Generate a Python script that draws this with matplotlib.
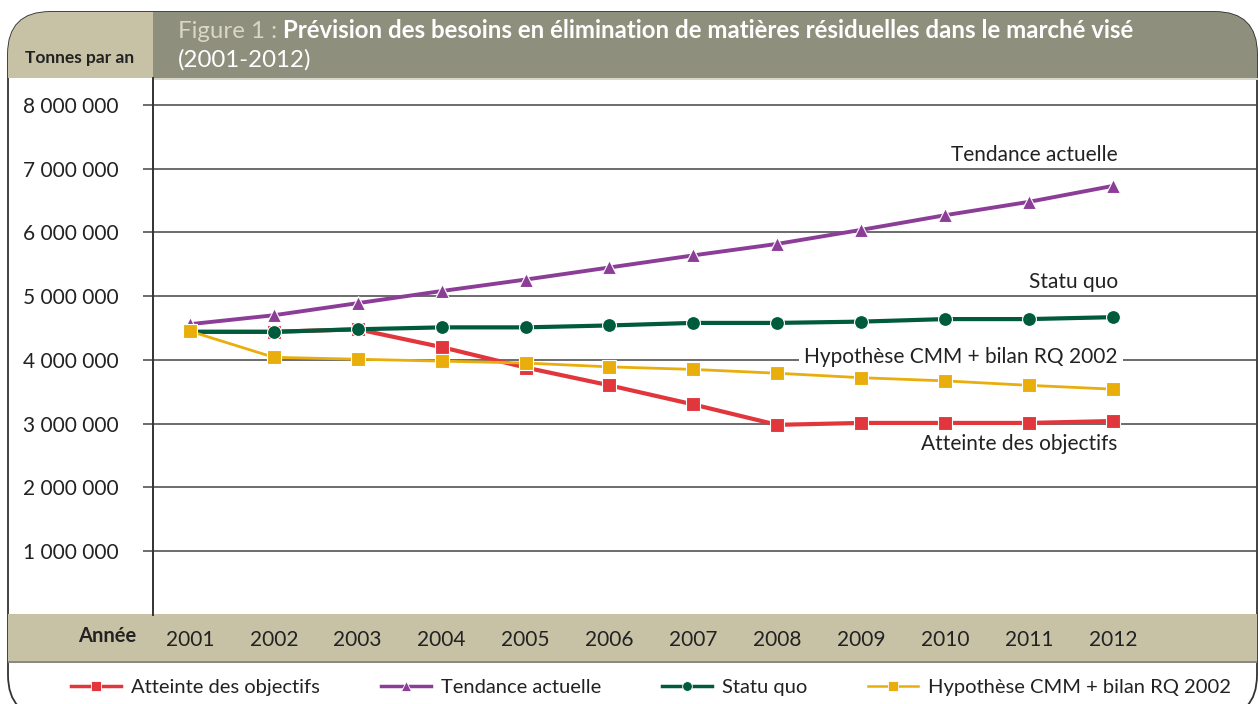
import matplotlib
matplotlib.use('Agg')
import matplotlib.pyplot as plt
from matplotlib.lines import Line2D
from matplotlib.patches import FancyBboxPatch, Rectangle
from matplotlib.transforms import Affine2D

plt.rcParams['font.family'] = ['Lato', 'DejaVu Sans']

years = [2001, 2002, 2003, 2004, 2005, 2006, 2007, 2008, 2009, 2010, 2011, 2012]
atteinte = [4.44e6, 4.44e6, 4.48e6, 4.20e6, 3.88e6, 3.60e6, 3.30e6, 2.98e6, 3.01e6, 3.01e6, 3.01e6, 3.04e6]
tendance = [4.56e6, 4.70e6, 4.89e6, 5.08e6, 5.26e6, 5.45e6, 5.64e6, 5.82e6, 6.04e6, 6.27e6, 6.48e6, 6.73e6]
statu_quo = [4.44e6, 4.44e6, 4.48e6, 4.51e6, 4.51e6, 4.54e6, 4.58e6, 4.58e6, 4.60e6, 4.64e6, 4.64e6, 4.67e6]
hypothese = [4.45e6, 4.04e6, 4.01e6, 3.98e6, 3.95e6, 3.89e6, 3.85e6, 3.79e6, 3.72e6, 3.67e6, 3.60e6, 3.54e6]
y_ticks = [1e6, 2e6, 3e6, 4e6, 5e6, 6e6, 7e6, 8e6]
y_tick_labels = ['1 000 000', '2 000 000', '3 000 000', '4 000 000',
                 '5 000 000', '6 000 000', '7 000 000', '8 000 000']

RED = '#e2363d'
PURPLE = '#8b3d97'
GREEN = '#005a3c'
YELLOW = '#e9ae0c'
BEIGE = '#c7c2a5'
GREY = '#8f8f7e'
TXT = '#222222'

W, H = 1258, 704
fig = plt.figure(figsize=(W / 100, H / 100), dpi=100)
# pixel coords, origin top-left
px = Affine2D().scale(1 / 100, -1 / 100).translate(0, H / 100) + fig.dpi_scale_trans


def fx(x):
    return x / W


def fy(y):
    return 1 - y / H


# outer rounded frame
frame = FancyBboxPatch((8, 12), 1249, 705, boxstyle='round,pad=0,rounding_size=42',
                       transform=px, facecolor='white', edgecolor='#333333', lw=1.3, zorder=-3)
fig.add_artist(frame)

# header bands
for x0, x1, col in [(0, 153, BEIGE), (153, W, GREY)]:
    r = Rectangle((x0, 0), x1 - x0, 78, transform=px, facecolor=col, edgecolor='none', zorder=-2)
    fig.add_artist(r)
    r.set_clip_path(frame)
fig.add_artist(Rectangle((153, 78), W - 153, 2, transform=px, facecolor='#d9d7c9',
                         edgecolor='none', zorder=-2))

# bottom band
band = Rectangle((0, 614), W, 48, transform=px, facecolor=BEIGE, edgecolor='none', zorder=-2)
fig.add_artist(band)
band.set_clip_path(frame)
shadow = Rectangle((0, 661), W, 2, transform=px, facecolor='#8a8a80', edgecolor='none', zorder=-2)
fig.add_artist(shadow)
shadow.set_clip_path(frame)

fig.text(fx(80), fy(58), 'Tonnes par an', fontsize=12.5, fontweight='bold', color=TXT,
         ha='center', va='center', zorder=3)
fig.text(fx(107), fy(636), 'Année', fontsize=14.5, fontweight='bold', color=TXT,
         ha='center', va='center', zorder=3)

t1 = fig.text(fx(178), fy(32), 'Figure 1 : ', fontsize=17.3, color='#d8d6c6',
              ha='left', va='center', zorder=3)
fig.add_artist(plt.Annotation('Prévision des besoins en élimination de matières résiduelles dans le marché visé',
                              xy=(1, 0), xycoords=t1, fontsize=17.3, fontweight='bold',
                              color='white', ha='left', va='bottom', zorder=3))
fig.text(fx(178), fy(60), '(2001-2012)', fontsize=17.3, color='white',
         ha='left', va='center', zorder=3)

# main axes
ax = fig.add_axes([fx(153), fy(614.7), fx(W) - fx(153), fy(78) - fy(614.7)])
ax.set_facecolor('none')
ax.set_xlim(2000.56, 2013.73)
ax.set_ylim(0, 8.424e6)

for s in ['top', 'right', 'bottom']:
    ax.spines[s].set_visible(False)
ax.spines['left'].set_color('#333333')
ax.spines['left'].set_linewidth(1.4)

ax.set_yticks(y_ticks)
ax.set_yticklabels(y_tick_labels)
ax.tick_params(axis='y', length=7.5, width=1.1, color='#444444', pad=17,
               labelsize=15, labelcolor=TXT)
ax.yaxis.grid(True, color='#444444', lw=1.1)
ax.set_axisbelow(True)

ax.set_xticks(years)
ax.set_xticklabels([str(y) for y in years])
ax.tick_params(axis='x', length=0, pad=11, labelsize=15, labelcolor=TXT)

mk = dict(markeredgecolor='white', markeredgewidth=0.8, clip_on=False)
ax.plot(years, atteinte, color=RED, lw=3, marker='s', ms=10, markerfacecolor=RED, zorder=3, **mk)
ax.plot(years, statu_quo, color=GREEN, lw=3, marker='o', ms=10, markerfacecolor=GREEN, zorder=4, **mk)
ax.plot(years, tendance, color=PURPLE, lw=2.8, marker='^', ms=10, markerfacecolor=PURPLE, zorder=5, **mk)
ax.plot(years, hypothese, color=YELLOW, lw=2, marker='s', ms=10, markerfacecolor=YELLOW, zorder=6, **mk)

lab = dict(textcoords='offset pixels', ha='right', va='center', fontsize=15, color=TXT)
ax.annotate('Tendance actuelle', xy=(years[-1], tendance[-1]), xytext=(5, 31), **lab)
ax.annotate('Statu quo', xy=(years[-1], statu_quo[-1]), xytext=(5, 35), **lab)
ax.annotate('Hypothèse CMM + bilan RQ 2002', xy=(years[-1], hypothese[-1]), xytext=(5, 32),
            bbox=dict(facecolor='white', edgecolor='none', pad=4), **lab)
ax.annotate('Atteinte des objectifs', xy=(years[-1], atteinte[-1]), xytext=(5, -23), **lab)

handles = [
    Line2D([], [], color=RED, lw=2.5, marker='s', ms=7, markeredgecolor='white', markeredgewidth=0.6),
    Line2D([], [], color=PURPLE, lw=2.5, marker='^', ms=7, markeredgecolor='white', markeredgewidth=0.6),
    Line2D([], [], color=GREEN, lw=2.5, marker='o', ms=7, markeredgecolor='white', markeredgewidth=0.6),
    Line2D([], [], color=YELLOW, lw=1.8, marker='s', ms=7, markeredgecolor='white', markeredgewidth=0.6),
]
labels = ['Atteinte des objectifs', 'Tendance actuelle', 'Statu quo', 'Hypothèse CMM + bilan RQ 2002']
fig.legend(handles, labels, loc='center', bbox_to_anchor=(fx(651), fy(687)), ncol=4,
           frameon=False, fontsize=14.5, handlelength=2.5, handletextpad=0.5,
           columnspacing=3.0, labelcolor=TXT)

fig.savefig('out.png', dpi=100)
